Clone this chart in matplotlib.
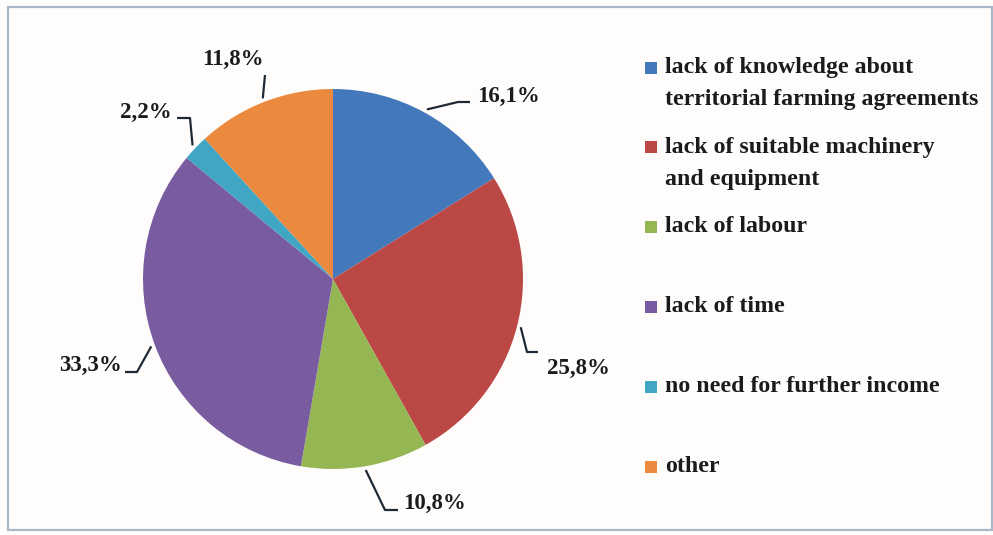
import matplotlib
matplotlib.use('Agg')
import matplotlib.pyplot as plt
import matplotlib.patches as mpatches
import numpy as np

plt.rcParams['font.family'] = ['Liberation Serif', 'DejaVu Serif']

# data
categories = [
    'lack of knowledge about\nterritorial farming agreements',
    'lack of suitable machinery\nand equipment',
    'lack of labour',
    'lack of time',
    'no need for further income',
    'other',
]
shares = [16.1, 25.8, 10.8, 33.3, 2.2, 11.8]
colors = ['#4378ba', '#bc4845', '#95b753', '#785c9f', '#40a6c3', '#eb8a3e']

TEXT = '#1b1b1b'
LINE = '#1f2a36'

# canvas in pixels, y measured from the top of the picture
W, H = 993, 535
CX, CY, R = 333, 279, 190

fig = plt.figure(figsize=(W / 100, H / 100), dpi=100)
fig.patch.set_facecolor('#fffdfc')
ax = fig.add_axes([0, 0, 1, 1])
ax.set_facecolor('#fffdfc')

wedges, _ = ax.pie(shares, colors=colors, startangle=90, counterclock=False,
                   center=(CX, H - CY), radius=R,
                   wedgeprops=dict(linewidth=0))
ax.set_xlim(0, W)
ax.set_ylim(0, H)
ax.set_aspect('auto')
ax.axis('off')

# outer frame
ax.add_patch(mpatches.Rectangle((8, H - 530), 984, 523, fill=False,
                                edgecolor='#a9b9c9', linewidth=1.6))

# label layout: (elbow x, elbow y, end x, end y, text x, text y, ha)
label_layout = [
    (458, 102, 470, 102, 477, 96, 'left'),
    (527, 352, 538, 352, 547, 368, 'left'),
    (385, 510, 398, 510, 403, 503, 'left'),
    (137, 372, 125, 372, 122, 365, 'right'),
    (190, 118, 177, 118, 172, 112, 'right'),
    (265, 75, 265, 75, 233, 59, 'center'),
]

for w, val, (ex, ey, lx, ly, tx, ty, ha) in zip(wedges, shares, label_layout):
    ang = np.deg2rad((w.theta1 + w.theta2) / 2)
    sx = CX + R * 1.02 * np.cos(ang)
    sy = (H - CY) + R * 1.02 * np.sin(ang)
    ax.plot([sx, ex, lx], [sy, H - ey, H - ly], color=LINE, lw=1.6,
            solid_capstyle='butt')
    ax.text(tx, H - ty, f'{val:.1f}%'.replace('.', ','), ha=ha, va='center',
            fontsize=16.5, fontweight='bold', color=TEXT)

# legend
leg_y = [68, 147, 227, 307, 387, 467]
for lab, col, y0 in zip(categories, colors, leg_y):
    ax.add_patch(mpatches.Rectangle((645, H - y0 - 6), 12, 12,
                                    facecolor=col, edgecolor='none'))
    for k, line in enumerate(lab.split('\n')):
        ax.text(665, H - (y0 + 32 * k), line, ha='left', va='center',
                fontsize=17.2, fontweight='bold', color=TEXT)

plt.savefig('out.png', dpi=100, facecolor=fig.get_facecolor())
plt.close()
